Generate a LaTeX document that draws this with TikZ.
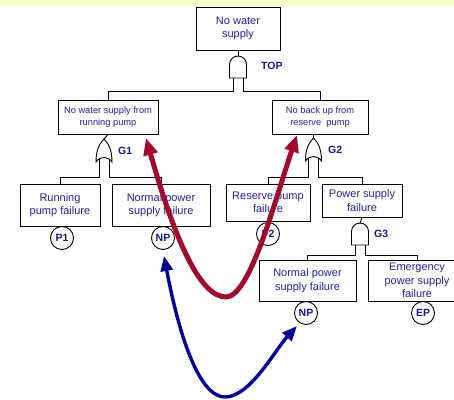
\documentclass[tikz,border=0pt]{standalone}
\usepackage{fontspec}
\setmainfont{Liberation Sans}
\usetikzlibrary{arrows.meta}
\definecolor{txt}{RGB}{35,35,155}
\definecolor{lbl}{RGB}{25,25,130}
\definecolor{redarr}{RGB}{160,10,45}
\definecolor{bluearr}{RGB}{0,0,150}
\definecolor{band}{RGB}{255,255,204}
% AND gate: #1 centre x, #2 top y (y grows downwards)
\newcommand\ANDgate[2]{%
  \draw[gateline] ({#1-8.5},{#2+22}) -- ({#1-8.5},{#2+8.5})
    .. controls ({#1-8.5},{#2+3.8}) and ({#1-4.7},{#2}) .. (#1,#2)
    .. controls ({#1+4.7},{#2}) and ({#1+8.5},{#2+3.8}) .. ({#1+8.5},{#2+8.5})
    -- ({#1+8.5},{#2+22}) -- cycle;}
% OR gate: #1 centre x, #2 apex y
\newcommand\ORgate[2]{%
  \draw[gateline] ({#1-8},{#2+23})
    .. controls ({#1-8},{#2+10}) and ({#1-4},{#2+4}) .. (#1,#2)
    .. controls ({#1+4},{#2+4}) and ({#1+8},{#2+10}) .. ({#1+8},{#2+23})
    .. controls ({#1+4},{#2+17}) and ({#1-4},{#2+17}) .. cycle;}
\begin{document}
\begin{tikzpicture}[x=1pt,y=-1pt,
  gateline/.style={draw=black,line width=0.9pt,fill=white},
  link/.style={draw=black,line width=0.9pt},
  evbox/.style={rectangle,draw=black,line width=0.9pt,fill=white,align=center,
    text=txt,inner sep=0pt,font=\fontsize{11}{13.3}\selectfont},
  smallbox/.style={evbox,font=\fontsize{9.3}{11.6}\selectfont},
  basic/.style={circle,draw=black,line width=0.9pt,fill=white,minimum size=23pt,
    inner sep=0pt,text=lbl,font=\fontsize{10.5}{12}\selectfont\bfseries},
  gatelbl/.style={anchor=west,inner sep=0pt,text=lbl,font=\fontsize{10.5}{12}\selectfont\bfseries},
  redlink/.style={draw=redarr,line width=5pt,
    arrows={Triangle[length=17pt,width=14pt]-Triangle[length=17pt,width=14pt]}},
  bluelink/.style={draw=bluearr,line width=3.4pt,
    arrows={Triangle[length=15pt,width=12pt]-Triangle[length=15pt,width=12pt]}}]
\useasboundingbox (0,0) rectangle (454,399);
\clip (0,0) rectangle (454,399);
\fill[band] (0,0) rectangle (454,6);

% events
\node[evbox,minimum width=84pt,minimum height=43pt] (top) at (238,28.5) {No water\\supply};
\node[smallbox,minimum width=100pt,minimum height=34pt] (L1) at (108,117) {No water supply from\\running pump};
\node[smallbox,minimum width=96pt,minimum height=34pt] (R1) at (320,117) {No back up from\\reserve\ \ pump};
\node[evbox,minimum width=80pt,minimum height=42pt] (rp) at (60,205) {Running\\pump failure};
\node[evbox,minimum width=98pt,minimum height=42pt] (np1) at (161,205) {Normal power\\supply failure};
\node[evbox,minimum width=84pt,minimum height=37pt] (resp) at (268,202.5) {Reserve pump\\failure};
\node[evbox,minimum width=80pt,minimum height=33pt] (psf) at (362,200.5) {Power supply\\failure};
\node[evbox,minimum width=97pt,minimum height=41pt] (np2) at (307.5,280.5) {Normal power\\supply failure};
\node[evbox,minimum width=98pt,minimum height=41pt] (ep) at (417,280.5) {Emergency\\power supply\\failure};

% basic event circles
\node[basic] (cP1) at (62,238) {P1};
\node[basic] (cNP1) at (163,238) {NP};
\node[basic] (cP2) at (268,234) {P2};
\node[basic] (cNP2) at (306,313) {NP};
\node[basic] (cEP) at (423,313) {EP};

% gates
\ANDgate{238}{56}
\coordinate (topin) at (238,56);
\coordinate (topL) at (233,78);
\coordinate (topR) at (243,78);
\node[gatelbl] (lTOP) at (261,66) {TOP};

\ORgate{104}{139}
\coordinate (g1in) at (104,139);
\coordinate (g1L) at (99,159);
\coordinate (g1R) at (109,159);
\node[gatelbl] (lG1) at (118,151) {G1};

\ORgate{313.5}{138}
\coordinate (g2in) at (313.5,138);
\coordinate (g2L) at (308.5,158);
\coordinate (g2R) at (318.5,158);
\node[gatelbl] (lG2) at (328,150) {G2};

\ANDgate{360}{223}
\coordinate (g3in) at (360,223);
\coordinate (g3L) at (355,245);
\coordinate (g3R) at (365,245);
\node[gatelbl] (lG3) at (374,234) {G3};

% connectors
\draw[link] (top.south) -- (topin);
\draw[link] (topL) -- ++(0,13) -| (L1.north);
\draw[link] (topR) -- ++(0,13) -| (R1.north);

\draw[link] (L1.south) -- (g1in);
\draw[link] (g1L) -- (99,177) -| (rp.north);
\draw[link] (g1R) -- (109,177) -| (np1.north);

\draw[link] (313.5,134) -- (g2in);
\draw[link] (g2L) -- (308.5,177) -| (resp.north);
\draw[link] (g2R) -- (318.5,177) -| (psf.north);

\draw[link] (psf.south) -- (g3in);
\draw[link] (g3L) -- ++(0,10) -| (np2.north);
\draw[link] (g3R) -- ++(0,10) -| (ep.north);

% highlighting arrows
\coordinate (rA) at (146,138);
\coordinate (rM) at (226,297);
\coordinate (rB) at (297,135);
\draw[redlink] (rA) .. controls (175,240) and (200,297) .. (rM)
  .. controls (250,297) and (275,200) .. (rB);

\coordinate (bA) at (164,256);
\coordinate (bM) at (225,397);
\coordinate (bB) at (297,326);
\draw[bluelink] (bA) .. controls (180,340) and (200,397) .. (bM)
  .. controls (250,397) and (275,350) .. (bB);
\end{tikzpicture}
\end{document}
